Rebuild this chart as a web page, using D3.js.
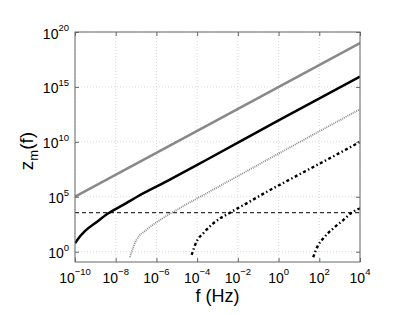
<!DOCTYPE html>
<head>
  <meta charset="UTF-8">
  <title>zm</title>
  <style>
  body, html, svg{
    padding: 0;
    margin: 0;
  }
  body{
    background: #fff;
  }
  text{
    font-family: "Liberation Sans", Arial, Helvetica, sans-serif;
    fill: #000;
  }
  </style>
</head>
<body>
  <script src="https://cdnjs.cloudflare.com/ajax/libs/d3/7.8.5/d3.min.js"></script>
  <script type="text/javascript">
  // data, as log10 values
  var xTickExp = [-10, -8, -6, -4, -2, 0, 2, 4];
  var yTickExp = [0, 5, 10, 15, 20];

  var grayF = [-10, -3.86, 4];
  var grayZ = [5, 11.14, 19];

  var blackF = [-10, -9.75, -9.5, -9.0, -8.4, -7.5, -6.97, -5.5, -3.6, 0, 4];
  var blackZ = [0.76, 1.4, 1.9, 2.6, 3.45, 4.4, 4.98, 6.4, 8.3, 11.95, 15.95];

  var dotF = [-7.3, -7.1, -6.97, -6.48, -5.83, -5.33, -4.84, -3.7, -2.23, 0, 4];
  var dotZ = [-0.51, 0.6, 1.1, 2.0, 2.88, 3.45, 3.98, 5.15, 6.65, 8.93, 12.97];

  var dd1F = [-4.27, -4.03, -3.7, -3.21, -2.39, -1.57, -0.58, 0.56, 3.26, 4];
  var dd1Z = [-0.3, 0.91, 1.67, 2.58, 3.55, 4.4, 5.45, 6.58, 9.25, 10.0];

  var dd2F = [1.7, 1.95, 2.2, 2.69, 3.18, 3.59, 4];
  var dd2Z = [-0.51, 0.61, 1.22, 2.13, 2.88, 3.55, 3.95];

  var thresholdZ = 3.55;

  var width = 407, height = 315;
  var mLeft = 75, mRight = 360, mTop = 32, mBottom = 262;

  var svg = d3.select('body')
    .append('svg')
    .attr('width', width)
    .attr('height', height);

  var x = d3.scaleLog().domain([1e-10, 1e4]).range([mLeft, mRight]);
  var y = d3.scaleLog().domain([Math.pow(10, -0.94), 1e20]).range([mBottom, mTop]);

  function pts(fs, zs){
    return fs.map(function(f, i){ return [Math.pow(10, f), Math.pow(10, zs[i])]; });
  }

  //网格
  var grid = svg.append('g');
  xTickExp.forEach(function(e){
    grid.append('line')
      .attr('x1', x(Math.pow(10, e))).attr('x2', x(Math.pow(10, e)))
      .attr('y1', mTop).attr('y2', mBottom)
      .attr('stroke', '#d0d0d0').attr('stroke-width', 0.8)
      .attr('stroke-dasharray', '1,2');
  });
  yTickExp.forEach(function(e){
    grid.append('line')
      .attr('x1', mLeft).attr('x2', mRight)
      .attr('y1', y(Math.pow(10, e))).attr('y2', y(Math.pow(10, e)))
      .attr('stroke', '#d0d0d0').attr('stroke-width', 0.8)
      .attr('stroke-dasharray', '1,2');
  });

  svg.append('clipPath').attr('id', 'clip')
    .append('rect').attr('x', mLeft).attr('y', mTop)
    .attr('width', mRight - mLeft).attr('height', mBottom - mTop);

  var line = d3.line()
    .x(function(d){ return x(d[0]); })
    .y(function(d){ return y(d[1]); })
    .curve(d3.curveMonotoneX);

  var plot = svg.append('g').attr('clip-path', 'url(#clip)');

  plot.append('path')
    .attr('d', line([[1e-10, Math.pow(10, thresholdZ)], [1e4, Math.pow(10, thresholdZ)]]))
    .attr('fill', 'none').attr('stroke', '#333').attr('stroke-width', 1.2)
    .attr('stroke-dasharray', '4,3');

  plot.append('path')
    .attr('d', line(pts(grayF, grayZ)))
    .attr('fill', 'none').attr('stroke', '#888').attr('stroke-width', 2.5);

  plot.append('path')
    .attr('d', line(pts(blackF, blackZ)))
    .attr('fill', 'none').attr('stroke', '#000').attr('stroke-width', 2.5);

  plot.append('path')
    .attr('d', line(pts(dotF, dotZ)))
    .attr('fill', 'none').attr('stroke', '#8a8a8a').attr('stroke-width', 1.8)
    .attr('stroke-dasharray', '1,1');

  [[dd1F, dd1Z], [dd2F, dd2Z]].forEach(function(s){
    plot.append('path')
      .attr('d', line(pts(s[0], s[1])))
      .attr('fill', 'none').attr('stroke', '#000').attr('stroke-width', 2.4)
      .attr('stroke-dasharray', '3,2.5,1.5,2.5');
  });

  //坐标轴
  var xVals = xTickExp.map(function(e){ return Math.pow(10, e); });
  var yVals = yTickExp.map(function(e){ return Math.pow(10, e); });

  function styleAxis(g){
    g.select('.domain').remove();
    g.selectAll('line').attr('stroke', '#666');
    g.selectAll('text').remove();
  }

  svg.append('g').attr('transform', 'translate(0,' + mBottom + ')')
    .call(d3.axisBottom(x).tickValues(xVals).tickSize(-4).tickFormat('')).call(styleAxis);
  svg.append('g').attr('transform', 'translate(0,' + mTop + ')')
    .call(d3.axisTop(x).tickValues(xVals).tickSize(-4).tickFormat('')).call(styleAxis);
  svg.append('g').attr('transform', 'translate(' + mLeft + ',0)')
    .call(d3.axisLeft(y).tickValues(yVals).tickSize(-4).tickFormat('')).call(styleAxis);
  svg.append('g').attr('transform', 'translate(' + mRight + ',0)')
    .call(d3.axisRight(y).tickValues(yVals).tickSize(-4).tickFormat('')).call(styleAxis);

  svg.append('rect')
    .attr('x', mLeft).attr('y', mTop)
    .attr('width', mRight - mLeft).attr('height', mBottom - mTop)
    .attr('fill', 'none').attr('stroke', '#666').attr('stroke-width', 1);

  function expText(sel, e){
    sel.append('tspan').attr('font-size', 14).text('10');
    sel.append('tspan').attr('font-size', 9.5).attr('dy', -7.5)
      .text(e < 0 ? '\u2212' + (-e) : String(e));
  }

  xTickExp.forEach(function(e){
    var t = svg.append('text')
      .attr('x', x(Math.pow(10, e)))
      .attr('y', 282.5)
      .attr('text-anchor', 'middle');
    expText(t, e);
  });

  yTickExp.forEach(function(e){
    var t = svg.append('text')
      .attr('x', 69)
      .attr('y', y(Math.pow(10, e)) + 6.5)
      .attr('text-anchor', 'end');
    expText(t, e);
  });

  //标题
  svg.append('text')
    .attr('x', (mLeft + mRight) / 2)
    .attr('y', 302)
    .attr('text-anchor', 'middle')
    .attr('font-size', 18)
    .text('f (Hz)');

  var yl = svg.append('text')
    .attr('transform', 'translate(33,151) rotate(-90)')
    .attr('text-anchor', 'middle')
    .attr('font-size', 19);
  yl.append('tspan').text('z');
  yl.append('tspan').attr('font-size', 13).attr('dy', 5).text('m');
  yl.append('tspan').attr('dy', -5).text('(f)');
  </script>
</body>
</html>
